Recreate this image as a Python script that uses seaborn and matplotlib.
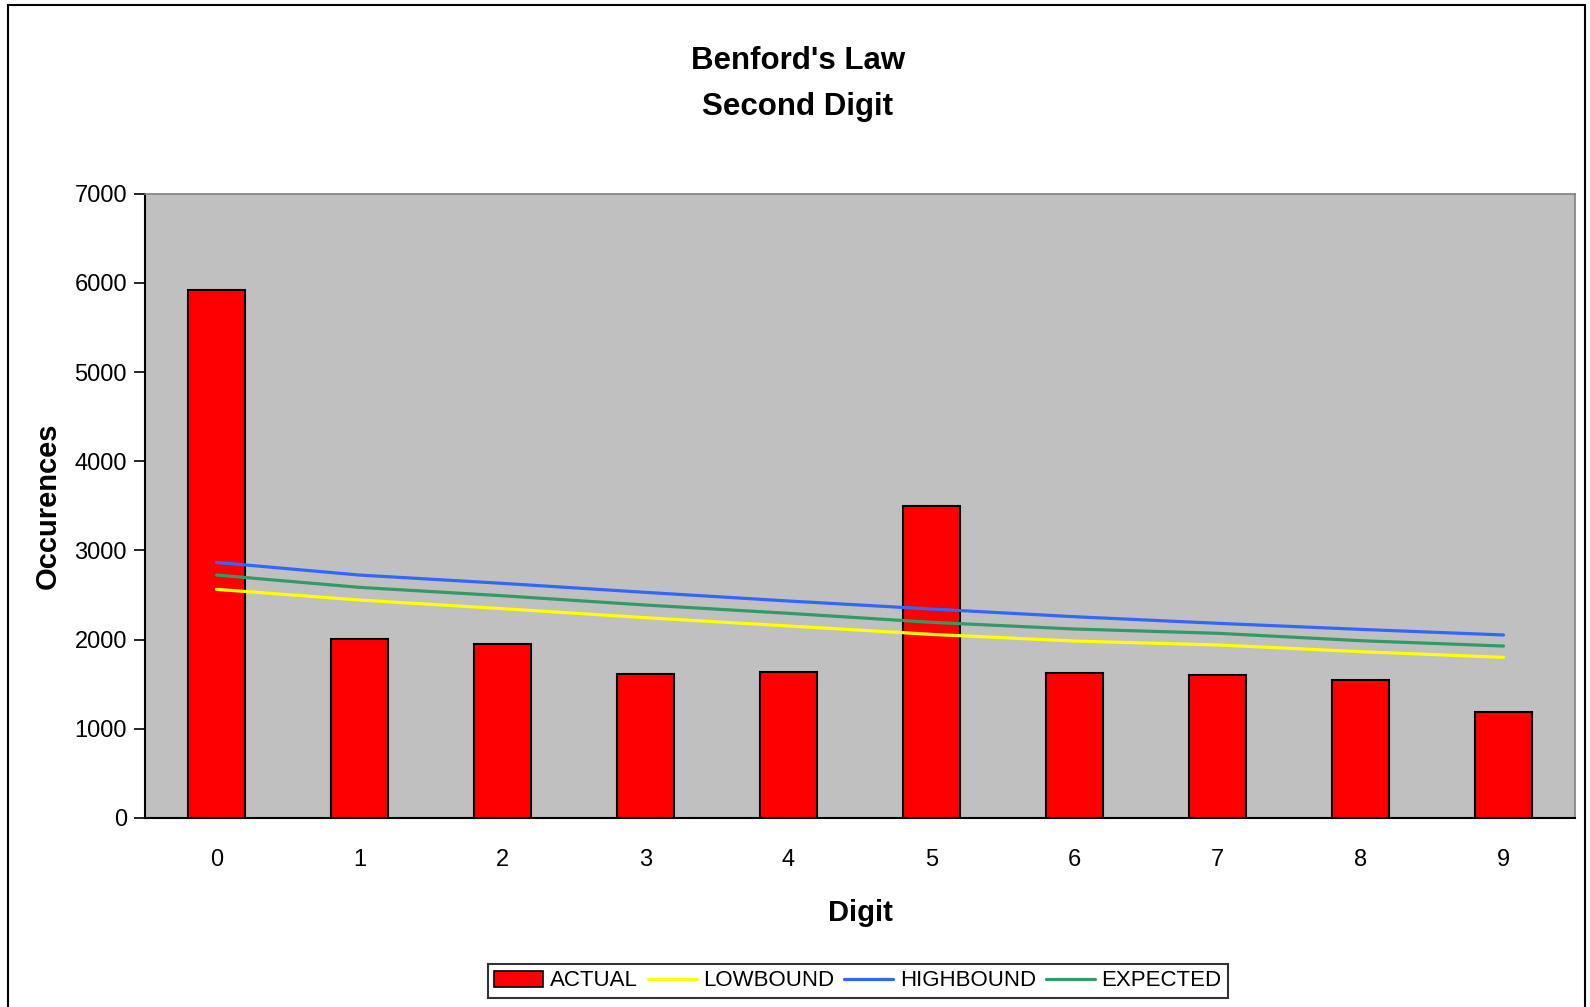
import matplotlib
matplotlib.use("Agg")
import matplotlib.pyplot as plt
import seaborn as sns
import pandas as pd
from matplotlib.patches import Rectangle, Patch
from matplotlib.lines import Line2D
from matplotlib.ticker import FixedLocator

digits = [0, 1, 2, 3, 4, 5, 6, 7, 8, 9]
actual = [5920, 2010, 1955, 1620, 1640, 3500, 1622, 1603, 1551, 1192]
lowbound = [2564, 2444, 2347, 2246, 2153, 2059, 1984, 1940, 1865, 1801]
highbound = [2866, 2724, 2631, 2530, 2433, 2343, 2257, 2183, 2115, 2052]
expected = [2724, 2586, 2492, 2388, 2295, 2194, 2119, 2071, 1988, 1928]
yticks = [0, 1000, 2000, 3000, 4000, 5000, 6000, 7000]

sns.set_theme(style="white")
plt.rcParams['font.family'] = ['Liberation Sans', 'DejaVu Sans']
for k in ['text.color', 'axes.labelcolor', 'xtick.color', 'ytick.color']:
    plt.rcParams[k] = 'black'

df = pd.DataFrame({"Digit": digits, "ACTUAL": actual, "LOWBOUND": lowbound,
                   "HIGHBOUND": highbound, "EXPECTED": expected})

fig = plt.figure(figsize=(15.9, 10.07), dpi=100)
ax = fig.add_axes([145/1590, 1-818/1007, (1575-145)/1590, (818-193.7)/1007])
ax.set_facecolor("#C0C0C0")

sns.barplot(data=df, x="Digit", y="ACTUAL", ax=ax, color="#FF0000", saturation=1,
            width=0.4, edgecolor="black", linewidth=1.5)
line_colors = {"LOWBOUND": "#FFFF00", "HIGHBOUND": "#3366FF", "EXPECTED": "#339966"}
for name in ["LOWBOUND", "HIGHBOUND", "EXPECTED"]:
    sns.lineplot(data=df, x="Digit", y=name, ax=ax, color=line_colors[name], linewidth=2.3)

ax.set_xlim(-0.5, 9.5)
ax.set_ylim(0, 7000)
ax.set_yticks(yticks)
ax.set_yticklabels([str(v) for v in yticks], fontsize=17)
ax.set_xticks(range(10))
ax.set_xticklabels([str(d) for d in digits], fontsize=17)
ax.xaxis.set_minor_locator(FixedLocator([i - 0.5 for i in range(11)]))
ax.tick_params(axis='x', which='major', length=0, pad=22.5)
ax.tick_params(axis='x', which='minor', length=8, width=1.2, color='black', direction='out')
ax.tick_params(axis='y', which='major', length=8, width=1.2, color='black', direction='out', pad=5, left=True)
ax.set_xlabel("Digit", fontsize=21, fontweight='bold', labelpad=20)
ax.set_ylabel("Occurences", fontsize=21, fontweight='bold', labelpad=9)
for s in ['left', 'bottom']:
    ax.spines[s].set_color('black')
    ax.spines[s].set_linewidth(1.5)
for s in ['top', 'right']:
    ax.spines[s].set_color('#808080')
    ax.spines[s].set_linewidth(1.2)
ax.grid(False)
if ax.get_legend():
    ax.get_legend().remove()

fig.text(798/1590, 1-61/1007, "Benford's Law", ha='center', va='center', fontsize=22.5, fontweight='bold')
fig.text(798/1590, 1-107/1007, "Second Digit", ha='center', va='center', fontsize=22.5, fontweight='bold')

handles = [Patch(facecolor="#FF0000", edgecolor="black", linewidth=1.2),
           Line2D([], [], color="#FFFF00", linewidth=2.3),
           Line2D([], [], color="#3366FF", linewidth=2.3),
           Line2D([], [], color="#339966", linewidth=2.3)]
leg = fig.legend(handles, ["ACTUAL", "LOWBOUND", "HIGHBOUND", "EXPECTED"], loc='center',
                 bbox_to_anchor=(858/1590, 1-981/1007), ncol=4,
                 prop={'family': 'Liberation Sans', 'size': 16},
                 frameon=True, fancybox=False, edgecolor='black', handlelength=2.2,
                 handletextpad=0.3, columnspacing=0.45, borderpad=0.3)
leg.get_frame().set_linewidth(1.5)

fig.patches.append(Rectangle((8/1590, -0.01), (1585-8)/1590, 1.01-5/1007,
                             transform=fig.transFigure, fill=False, edgecolor='black', linewidth=1.5))

fig.savefig("out.png", dpi=100)
